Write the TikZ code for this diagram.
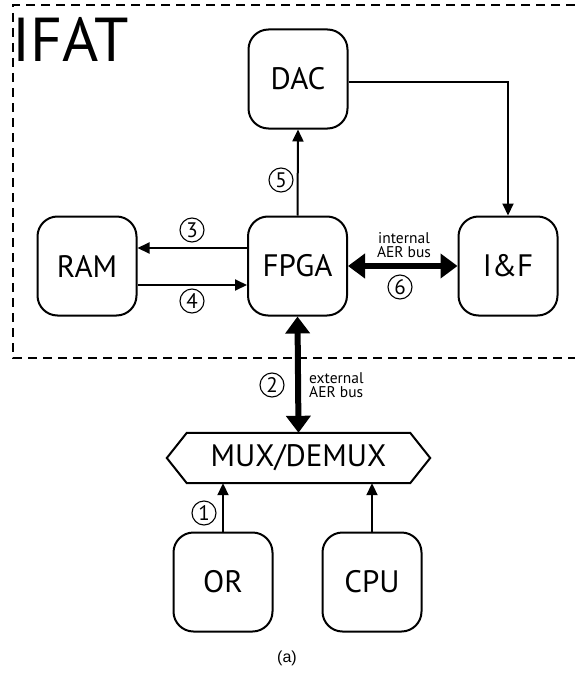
\documentclass[tikz,border=0pt]{standalone}
\usepackage{fontspec}
\setmainfont{PT Sans}
\newfontfamily\capfont{Liberation Sans}
\usetikzlibrary{arrows.meta}
\tikzset{
  blk/.style={draw, line width=2pt, rounded corners=20pt, minimum width=99pt, minimum height=99pt, inner sep=0pt, font=\fontsize{31}{34}\selectfont},
  thin/.style={line width=2pt, -{Triangle[length=12pt,width=11pt]}},
  bus/.style={line width=6pt, {Triangle[length=17pt,width=24pt]}-{Triangle[length=17pt,width=24pt]}},
  num/.style={draw, circle, line width=1.1pt, minimum size=24pt, inner sep=0pt, font=\fontsize{21}{21}\selectfont},
  small/.style={font=\fontsize{15.5}{14.5}\selectfont, inner sep=0pt, align=center},
}
\begin{document}
\begin{tikzpicture}[x=1pt,y=-1pt]
\useasboundingbox (0,0) rectangle (575,677);
% dashed IFAT frame
\draw[line width=2pt, dash pattern=on 9pt off 6pt] (575,5) -- (13,5) -- (13,358) -- (575,358);
\node[anchor=south west, inner sep=0pt, font=\fontsize{62}{62}\selectfont] (ifat) at (12,62) {IFAT};
% blocks
\node[blk] (dac) at (298,79) {DAC};
\node[blk] (fpga) at (297.5,266) {FPGA};
\node[blk] (ram) at (87,266) {RAM};
\node[blk] (iaf) at (508,266) {I\&F};
\node[blk] (or) at (223,582) {OR};
\node[blk] (cpu) at (372,582) {CPU};
% mux/demux hexagon
\node[minimum width=263pt, minimum height=50pt, inner sep=0pt, font=\fontsize{31}{34}\selectfont] (mux) at (298.5,458) {MUX/DEMUX};
\draw[line width=2pt] (mux.west) -- ([xshift=20pt]mux.north west) -- ([xshift=-20pt]mux.north east) -- (mux.east) -- ([xshift=-20pt]mux.south east) -- ([xshift=20pt]mux.south west) -- cycle;
% connectors
\coordinate (dacout) at (dac.east |- 0,82);
\coordinate (corner) at (iaf.north |- 0,82);
\draw[thin] (fpga.north) -- (dac.south);
\draw[thin, rounded corners=0pt] (dacout) -- (corner) -- (iaf.north);
\draw[thin] (fpga.west |- 0,248) -- (ram.east |- 0,248);
\draw[thin] (ram.east |- 0,285) -- (fpga.west |- 0,285);
\draw[bus] (fpga.east) -- (iaf.west);
\draw[bus] (fpga.south) -- (mux.north);
\draw[thin] (or.north) -- (or.north |- mux.south);
\draw[thin] (cpu.north) -- (cpu.north |- mux.south);
% labels
\node[num] (n1) at (204,513) {1};
\node[num] (n2) at (272,385) {2};
\node[num] (n3) at (192,230) {3};
\node[num] (n4) at (192,301) {4};
\node[num] (n5) at (281,180) {5};
\node[num] (n6) at (400,287) {6};
\node[small] (ib) at (404,245) {internal\\AER bus};
\node[small, align=left, anchor=west] (eb) at (309,385) {external\\AER bus};
\node[font=\capfont\fontsize{16}{16}\selectfont] (cap) at (287,658) {(a)};
\end{tikzpicture}
\end{document}
